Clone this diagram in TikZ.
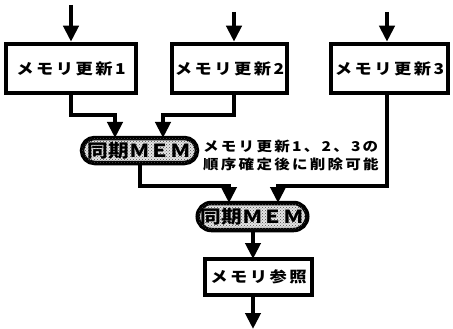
\documentclass[tikz,border=0pt]{standalone}
\usepackage{fontspec}
\newfontfamily\jp{Noto Sans CJK JP}[FakeStretch=1.15]
\usetikzlibrary{arrows.meta,shapes.misc,patterns}
\begin{document}
\begin{tikzpicture}[x=1pt,y=-1pt,
  conn/.style={line width=4pt},
  arr/.style={conn,-{Triangle[width=15pt,length=16pt]}},
  procbox/.style={draw,line width=4.5pt,fill=white,inner sep=0pt,font=\jp\bfseries\fontsize{15}{17}\selectfont},
  syncmem/.style={draw,rounded rectangle,line width=4.5pt,fill=gray!20,inner sep=0pt,
     postaction={pattern=crosshatch dots,pattern color=black!70},
     font=\jp\bfseries\fontsize{18}{20}\selectfont},
  note/.style={align=left,inner sep=0pt,anchor=north west,font=\jp\bfseries\fontsize{13.5}{18}\selectfont}
]
\useasboundingbox (0,0) rectangle (453,329);
% boxes
\node[procbox,minimum width=130pt,minimum height=49pt] (b1) at (71,68.5) {メ\,モ\,リ\,更\,新\,1};
\node[procbox,minimum width=115pt,minimum height=49pt] (b2) at (229.5,68.5) {メ\,モ\,リ\,更\,新\,2};
\node[procbox,minimum width=117pt,minimum height=49pt] (b3) at (389.5,68.5) {メ\,モ\,リ\,更\,新\,3};
\node[syncmem,minimum width=115pt,minimum height=25pt] (e1) at (139.5,150.5) {同期ＭＥＭ};
\node[syncmem,minimum width=103pt,minimum height=27pt] (e2) at (252.5,216.5) {同期ＭＥＭ};
\node[procbox,minimum width=107pt,minimum height=36pt] (b4) at (258.5,277) {メ\,モ\,リ\,参\,照};
\node[note] (lbl) at (203,140) {メ\,モ\,リ\,更\,新\,1\,、\,2\,、\,3\,の\\順\,序\,確\,定\,後\,に\,削\,除\,可\,能};
% free ends
\coordinate (in1) at (71,5);
\coordinate (in2) at (234,12);
\coordinate (in3) at (387,12);
\coordinate (out) at (253,329);
% connectors
\draw[arr] (in1) -- (in1 |- b1.north);
\draw[arr] (in2) -- (in2 |- b2.north);
\draw[arr] (in3) -- (in3 |- b3.north);
\draw[arr] (b1.south -| 71,0) |- (115,115) -- (115,138);
\draw[arr] (b2.south -| 234,0) |- (163,115) -- (163,138);
\draw[arr] (e1.south -| 140,0) |- (229,186) -- (229,203);
\draw[arr] (b3.south -| 387,0) |- (278,186) -- (278,203);
\draw[arr] (e2.south -| 253,0) -- (253,259);
\draw[arr] (b4.south -| 253,0) -- (out);
\end{tikzpicture}
\end{document}
